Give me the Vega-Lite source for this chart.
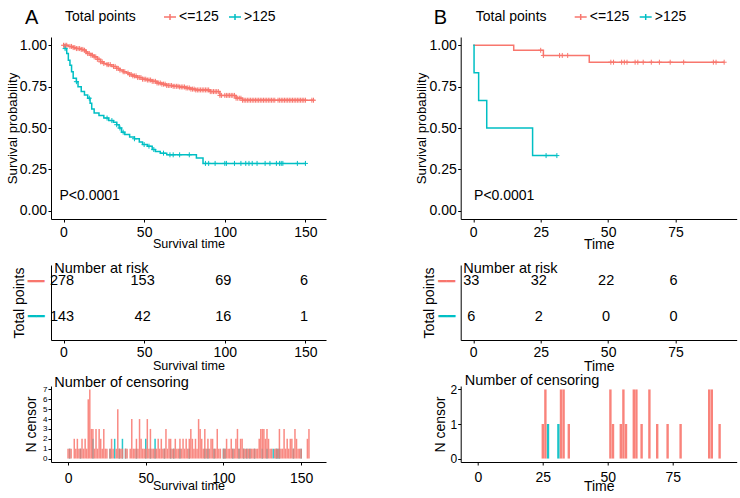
{
"$schema":"https://vega.github.io/schema/vega-lite/v6.json",
"padding":{"left":5,"top":7,"right":3,"bottom":2},
"config":{
 "font":"Liberation Sans",
 "view":{"stroke":null},
 "axis":{"grid":false,"domainColor":"#000","tickColor":"#000","labelColor":"#000","titleColor":"#000","labelFontSize":14,"titleFontSize":14,"titleFontWeight":"normal","tickSize":3,"domainWidth":1,"tickWidth":1,"labelFlush":false,"labelOverlap":false,"labelFont":"Liberation Sans","titleFont":"Liberation Sans","minExtent":0},
 "title":{"fontWeight":"normal","color":"#000","font":"Liberation Sans"},
 "legend":{"orient":"none","direction":"horizontal","titleOrient":"left","titleFontSize":14,"titleFontWeight":"normal","titleColor":"#000","labelFontSize":14,"labelColor":"#000","labelFont":"Liberation Sans","titleFont":"Liberation Sans","symbolType":"M-1,0L1,0M0,-0.5L0,0.5","symbolSize":144,"symbolStrokeWidth":1.5,"symbolFillColor":"transparent","labelOffset":2,"columnPadding":7,"titlePadding":27,"titleBaseline":"middle"}
},
"datasets":{
 "km":[
  {"p":"A","g":"<=125","t":0,"s":1},{"p":"A","g":"<=125","t":3,"s":0.993},{"p":"A","g":"<=125","t":6,"s":0.986},{"p":"A","g":"<=125","t":8,"s":0.98},{"p":"A","g":"<=125","t":11,"s":0.975},{"p":"A","g":"<=125","t":13,"s":0.97},{"p":"A","g":"<=125","t":14,"s":0.96},{"p":"A","g":"<=125","t":15,"s":0.95},{"p":"A","g":"<=125","t":17,"s":0.94},{"p":"A","g":"<=125","t":19,"s":0.93},{"p":"A","g":"<=125","t":21,"s":0.915},{"p":"A","g":"<=125","t":23,"s":0.9},{"p":"A","g":"<=125","t":25,"s":0.89},{"p":"A","g":"<=125","t":27,"s":0.883},{"p":"A","g":"<=125","t":30,"s":0.872},{"p":"A","g":"<=125","t":33,"s":0.86},{"p":"A","g":"<=125","t":35,"s":0.85},{"p":"A","g":"<=125","t":37,"s":0.84},{"p":"A","g":"<=125","t":39,"s":0.832},{"p":"A","g":"<=125","t":41,"s":0.823},{"p":"A","g":"<=125","t":43,"s":0.815},{"p":"A","g":"<=125","t":46,"s":0.805},{"p":"A","g":"<=125","t":49,"s":0.795},{"p":"A","g":"<=125","t":52,"s":0.79},{"p":"A","g":"<=125","t":55,"s":0.782},{"p":"A","g":"<=125","t":58,"s":0.772},{"p":"A","g":"<=125","t":61,"s":0.765},{"p":"A","g":"<=125","t":64,"s":0.757},{"p":"A","g":"<=125","t":68,"s":0.752},{"p":"A","g":"<=125","t":72,"s":0.748},{"p":"A","g":"<=125","t":76,"s":0.742},{"p":"A","g":"<=125","t":79,"s":0.735},{"p":"A","g":"<=125","t":82,"s":0.73},{"p":"A","g":"<=125","t":91,"s":0.72},{"p":"A","g":"<=125","t":97,"s":0.697},{"p":"A","g":"<=125","t":107,"s":0.68},{"p":"A","g":"<=125","t":111,"s":0.668},{"p":"A","g":"<=125","t":155.6,"s":0.668},
  {"p":"A","g":">125","t":0,"s":1},{"p":"A","g":">125","t":1,"s":0.98},{"p":"A","g":">125","t":2,"s":0.95},{"p":"A","g":">125","t":3,"s":0.91},{"p":"A","g":">125","t":4,"s":0.88},{"p":"A","g":">125","t":5,"s":0.84},{"p":"A","g":">125","t":6,"s":0.8},{"p":"A","g":">125","t":8,"s":0.78},{"p":"A","g":">125","t":9,"s":0.75},{"p":"A","g":">125","t":11,"s":0.72},{"p":"A","g":">125","t":13,"s":0.7},{"p":"A","g":">125","t":15,"s":0.68},{"p":"A","g":">125","t":16.5,"s":0.65},{"p":"A","g":">125","t":17.5,"s":0.615},{"p":"A","g":">125","t":19,"s":0.59},{"p":"A","g":">125","t":22,"s":0.575},{"p":"A","g":">125","t":25,"s":0.56},{"p":"A","g":">125","t":28,"s":0.545},{"p":"A","g":">125","t":31,"s":0.535},{"p":"A","g":">125","t":33,"s":0.52},{"p":"A","g":">125","t":34.5,"s":0.5},{"p":"A","g":">125","t":36,"s":0.475},{"p":"A","g":">125","t":38,"s":0.46},{"p":"A","g":">125","t":41,"s":0.445},{"p":"A","g":">125","t":44,"s":0.435},{"p":"A","g":">125","t":47,"s":0.415},{"p":"A","g":">125","t":49,"s":0.4},{"p":"A","g":">125","t":52,"s":0.39},{"p":"A","g":">125","t":55,"s":0.37},{"p":"A","g":">125","t":57,"s":0.358},{"p":"A","g":">125","t":60,"s":0.348},{"p":"A","g":">125","t":64,"s":0.338},{"p":"A","g":">125","t":82.4,"s":0.318},{"p":"A","g":">125","t":86.5,"s":0.286},{"p":"A","g":">125","t":150.4,"s":0.286},
  {"p":"B","g":"<=125","t":0,"s":1},{"p":"B","g":"<=125","t":15,"s":0.9697},{"p":"B","g":"<=125","t":26,"s":0.9384},{"p":"B","g":"<=125","t":43,"s":0.8976},{"p":"B","g":"<=125","t":93,"s":0.8976},
  {"p":"B","g":">125","t":0,"s":1},{"p":"B","g":">125","t":0.3,"s":0.8333},{"p":"B","g":">125","t":2,"s":0.6667},{"p":"B","g":">125","t":5,"s":0.5},{"p":"B","g":">125","t":22,"s":0.3333},{"p":"B","g":">125","t":31,"s":0.3333}
 ],
 "cens":[
  {"p":"A","g":">125","t":1,"n":1,"s":0.98},{"p":"A","g":">125","t":8,"n":1,"s":0.78},{"p":"A","g":">125","t":16,"n":2,"s":0.68},{"p":"A","g":">125","t":27,"n":1,"s":0.56},{"p":"A","g":">125","t":30,"n":2,"s":0.545},{"p":"A","g":">125","t":33,"n":1,"s":0.52},{"p":"A","g":">125","t":35,"n":2,"s":0.5},{"p":"A","g":">125","t":37,"n":1,"s":0.475},{"p":"A","g":">125","t":44,"n":1,"s":0.435},{"p":"A","g":">125","t":50,"n":2,"s":0.4},{"p":"A","g":">125","t":53,"n":1,"s":0.39},{"p":"A","g":">125","t":56,"n":2,"s":0.37},{"p":"A","g":">125","t":62,"n":1,"s":0.348},{"p":"A","g":">125","t":66,"n":1,"s":0.338},{"p":"A","g":">125","t":68,"n":1,"s":0.338},{"p":"A","g":">125","t":72,"n":1,"s":0.338},{"p":"A","g":">125","t":78,"n":1,"s":0.338},{"p":"A","g":">125","t":88,"n":1,"s":0.286},{"p":"A","g":">125","t":90,"n":1,"s":0.286},{"p":"A","g":">125","t":94,"n":1,"s":0.286},{"p":"A","g":">125","t":100,"n":1,"s":0.286},{"p":"A","g":">125","t":101,"n":1,"s":0.286},{"p":"A","g":">125","t":106,"n":1,"s":0.286},{"p":"A","g":">125","t":110,"n":1,"s":0.286},{"p":"A","g":">125","t":113,"n":1,"s":0.286},{"p":"A","g":">125","t":115,"n":1,"s":0.286},{"p":"A","g":">125","t":117,"n":1,"s":0.286},{"p":"A","g":">125","t":120,"n":1,"s":0.286},{"p":"A","g":">125","t":125,"n":1,"s":0.286},{"p":"A","g":">125","t":128,"n":1,"s":0.286},{"p":"A","g":">125","t":132,"n":1,"s":0.286},{"p":"A","g":">125","t":134,"n":1,"s":0.286},{"p":"A","g":">125","t":135,"n":1,"s":0.286},{"p":"A","g":">125","t":136,"n":1,"s":0.286},{"p":"A","g":">125","t":145,"n":1,"s":0.286},{"p":"A","g":">125","t":150,"n":1,"s":0.286},
  {"p":"A","g":"<=125","t":0,"n":1,"s":1},{"p":"A","g":"<=125","t":1,"n":1,"s":1},{"p":"A","g":"<=125","t":2,"n":1,"s":1},{"p":"A","g":"<=125","t":4,"n":2,"s":0.993},{"p":"A","g":"<=125","t":5,"n":1,"s":0.993},{"p":"A","g":"<=125","t":6,"n":2,"s":0.986},{"p":"A","g":"<=125","t":7,"n":1,"s":0.986},{"p":"A","g":"<=125","t":8,"n":1,"s":0.98},{"p":"A","g":"<=125","t":9,"n":2,"s":0.98},{"p":"A","g":"<=125","t":10,"n":1,"s":0.98},{"p":"A","g":"<=125","t":11,"n":2,"s":0.975},{"p":"A","g":"<=125","t":12,"n":1,"s":0.975},{"p":"A","g":"<=125","t":13,"n":6,"s":0.97},{"p":"A","g":"<=125","t":14,"n":7,"s":0.96},{"p":"A","g":"<=125","t":15,"n":3,"s":0.95},{"p":"A","g":"<=125","t":16,"n":3,"s":0.95},{"p":"A","g":"<=125","t":17,"n":1,"s":0.94},{"p":"A","g":"<=125","t":18,"n":3,"s":0.94},{"p":"A","g":"<=125","t":19,"n":1,"s":0.93},{"p":"A","g":"<=125","t":20,"n":3,"s":0.93},{"p":"A","g":"<=125","t":21,"n":2,"s":0.915},{"p":"A","g":"<=125","t":22,"n":1,"s":0.915},{"p":"A","g":"<=125","t":23,"n":3,"s":0.9},{"p":"A","g":"<=125","t":24,"n":1,"s":0.9},{"p":"A","g":"<=125","t":25,"n":1,"s":0.89},{"p":"A","g":"<=125","t":27,"n":1,"s":0.883},{"p":"A","g":"<=125","t":28,"n":2,"s":0.883},{"p":"A","g":"<=125","t":29,"n":1,"s":0.883},{"p":"A","g":"<=125","t":31,"n":1,"s":0.872},{"p":"A","g":"<=125","t":32,"n":5,"s":0.872},{"p":"A","g":"<=125","t":33,"n":1,"s":0.86},{"p":"A","g":"<=125","t":34,"n":1,"s":0.86},{"p":"A","g":"<=125","t":35,"n":1,"s":0.85},{"p":"A","g":"<=125","t":37,"n":1,"s":0.84},{"p":"A","g":"<=125","t":38,"n":1,"s":0.84},{"p":"A","g":"<=125","t":40,"n":1,"s":0.832},{"p":"A","g":"<=125","t":41,"n":4,"s":0.823},{"p":"A","g":"<=125","t":42,"n":1,"s":0.823},{"p":"A","g":"<=125","t":43,"n":1,"s":0.815},{"p":"A","g":"<=125","t":44,"n":2,"s":0.815},{"p":"A","g":"<=125","t":45,"n":1,"s":0.815},{"p":"A","g":"<=125","t":46,"n":4,"s":0.805},{"p":"A","g":"<=125","t":47,"n":2,"s":0.805},{"p":"A","g":"<=125","t":48,"n":1,"s":0.805},{"p":"A","g":"<=125","t":49,"n":1,"s":0.795},{"p":"A","g":"<=125","t":50,"n":1,"s":0.795},{"p":"A","g":"<=125","t":51,"n":4,"s":0.795},{"p":"A","g":"<=125","t":52,"n":1,"s":0.79},{"p":"A","g":"<=125","t":53,"n":3,"s":0.79},{"p":"A","g":"<=125","t":54,"n":1,"s":0.79},{"p":"A","g":"<=125","t":55,"n":1,"s":0.782},{"p":"A","g":"<=125","t":56,"n":1,"s":0.782},{"p":"A","g":"<=125","t":57,"n":1,"s":0.782},{"p":"A","g":"<=125","t":58,"n":2,"s":0.772},{"p":"A","g":"<=125","t":59,"n":1,"s":0.772},{"p":"A","g":"<=125","t":60,"n":2,"s":0.772},{"p":"A","g":"<=125","t":61,"n":1,"s":0.765},{"p":"A","g":"<=125","t":62,"n":1,"s":0.765},{"p":"A","g":"<=125","t":63,"n":3,"s":0.765},{"p":"A","g":"<=125","t":64,"n":1,"s":0.757},{"p":"A","g":"<=125","t":65,"n":2,"s":0.757},{"p":"A","g":"<=125","t":66,"n":2,"s":0.757},{"p":"A","g":"<=125","t":67,"n":1,"s":0.757},{"p":"A","g":"<=125","t":68,"n":1,"s":0.752},{"p":"A","g":"<=125","t":69,"n":2,"s":0.752},{"p":"A","g":"<=125","t":70,"n":1,"s":0.752},{"p":"A","g":"<=125","t":71,"n":1,"s":0.752},{"p":"A","g":"<=125","t":72,"n":2,"s":0.748},{"p":"A","g":"<=125","t":73,"n":1,"s":0.748},{"p":"A","g":"<=125","t":74,"n":2,"s":0.748},{"p":"A","g":"<=125","t":75,"n":1,"s":0.748},{"p":"A","g":"<=125","t":76,"n":2,"s":0.742},{"p":"A","g":"<=125","t":77,"n":1,"s":0.742},{"p":"A","g":"<=125","t":78,"n":2,"s":0.742},{"p":"A","g":"<=125","t":79,"n":3,"s":0.735},{"p":"A","g":"<=125","t":80,"n":2,"s":0.735},{"p":"A","g":"<=125","t":81,"n":1,"s":0.735},{"p":"A","g":"<=125","t":82,"n":2,"s":0.73},{"p":"A","g":"<=125","t":83,"n":1,"s":0.73},{"p":"A","g":"<=125","t":84,"n":4,"s":0.73},{"p":"A","g":"<=125","t":85,"n":3,"s":0.73},{"p":"A","g":"<=125","t":86,"n":2,"s":0.73},{"p":"A","g":"<=125","t":87,"n":1,"s":0.73},{"p":"A","g":"<=125","t":88,"n":3,"s":0.73},{"p":"A","g":"<=125","t":89,"n":1,"s":0.73},{"p":"A","g":"<=125","t":90,"n":2,"s":0.73},{"p":"A","g":"<=125","t":91,"n":1,"s":0.72},{"p":"A","g":"<=125","t":92,"n":2,"s":0.72},{"p":"A","g":"<=125","t":93,"n":2,"s":0.72},{"p":"A","g":"<=125","t":94,"n":1,"s":0.72},{"p":"A","g":"<=125","t":95,"n":1,"s":0.72},{"p":"A","g":"<=125","t":96,"n":3,"s":0.72},{"p":"A","g":"<=125","t":97,"n":1,"s":0.697},{"p":"A","g":"<=125","t":98,"n":1,"s":0.697},{"p":"A","g":"<=125","t":100,"n":1,"s":0.697},{"p":"A","g":"<=125","t":101,"n":1,"s":0.697},{"p":"A","g":"<=125","t":102,"n":2,"s":0.697},{"p":"A","g":"<=125","t":103,"n":1,"s":0.697},{"p":"A","g":"<=125","t":104,"n":1,"s":0.697},{"p":"A","g":"<=125","t":105,"n":2,"s":0.697},{"p":"A","g":"<=125","t":106,"n":1,"s":0.697},{"p":"A","g":"<=125","t":107,"n":1,"s":0.68},{"p":"A","g":"<=125","t":108,"n":2,"s":0.68},{"p":"A","g":"<=125","t":109,"n":3,"s":0.68},{"p":"A","g":"<=125","t":110,"n":1,"s":0.68},{"p":"A","g":"<=125","t":111,"n":2,"s":0.668},{"p":"A","g":"<=125","t":112,"n":2,"s":0.668},{"p":"A","g":"<=125","t":113,"n":1,"s":0.668},{"p":"A","g":"<=125","t":114,"n":1,"s":0.668},{"p":"A","g":"<=125","t":115,"n":1,"s":0.668},{"p":"A","g":"<=125","t":116,"n":1,"s":0.668},{"p":"A","g":"<=125","t":117,"n":1,"s":0.668},{"p":"A","g":"<=125","t":118,"n":1,"s":0.668},{"p":"A","g":"<=125","t":119,"n":1,"s":0.668},{"p":"A","g":"<=125","t":120,"n":1,"s":0.668},{"p":"A","g":"<=125","t":121,"n":1,"s":0.668},{"p":"A","g":"<=125","t":122,"n":1,"s":0.668},{"p":"A","g":"<=125","t":123,"n":2,"s":0.668},{"p":"A","g":"<=125","t":124,"n":3,"s":0.668},{"p":"A","g":"<=125","t":125,"n":3,"s":0.668},{"p":"A","g":"<=125","t":126,"n":3,"s":0.668},{"p":"A","g":"<=125","t":127,"n":2,"s":0.668},{"p":"A","g":"<=125","t":128,"n":3,"s":0.668},{"p":"A","g":"<=125","t":129,"n":2,"s":0.668},{"p":"A","g":"<=125","t":130,"n":1,"s":0.668},{"p":"A","g":"<=125","t":131,"n":1,"s":0.668},{"p":"A","g":"<=125","t":133,"n":1,"s":0.668},{"p":"A","g":"<=125","t":134,"n":1,"s":0.668},{"p":"A","g":"<=125","t":135,"n":1,"s":0.668},{"p":"A","g":"<=125","t":136,"n":3,"s":0.668},{"p":"A","g":"<=125","t":137,"n":1,"s":0.668},{"p":"A","g":"<=125","t":138,"n":1,"s":0.668},{"p":"A","g":"<=125","t":139,"n":3,"s":0.668},{"p":"A","g":"<=125","t":140,"n":1,"s":0.668},{"p":"A","g":"<=125","t":141,"n":2,"s":0.668},{"p":"A","g":"<=125","t":142,"n":1,"s":0.668},{"p":"A","g":"<=125","t":143,"n":2,"s":0.668},{"p":"A","g":"<=125","t":144,"n":2,"s":0.668},{"p":"A","g":"<=125","t":145,"n":1,"s":0.668},{"p":"A","g":"<=125","t":146,"n":3,"s":0.668},{"p":"A","g":"<=125","t":147,"n":2,"s":0.668},{"p":"A","g":"<=125","t":148,"n":1,"s":0.668},{"p":"A","g":"<=125","t":149,"n":1,"s":0.668},{"p":"A","g":"<=125","t":150,"n":1,"s":0.668},{"p":"A","g":"<=125","t":154,"n":2,"s":0.668},{"p":"A","g":"<=125","t":155,"n":3,"s":0.668},
  {"p":"B","g":">125","t":27,"n":1,"s":0.3333},{"p":"B","g":">125","t":31,"n":1,"s":0.3333},
  {"p":"B","g":"<=125","t":25,"n":1,"s":0.9697},{"p":"B","g":"<=125","t":26,"n":2,"s":0.9384},{"p":"B","g":"<=125","t":32,"n":2,"s":0.9384},{"p":"B","g":"<=125","t":33,"n":2,"s":0.9384},{"p":"B","g":"<=125","t":35,"n":1,"s":0.9384},{"p":"B","g":"<=125","t":51,"n":2,"s":0.8976},{"p":"B","g":"<=125","t":52,"n":1,"s":0.8976},{"p":"B","g":"<=125","t":55,"n":1,"s":0.8976},{"p":"B","g":"<=125","t":56,"n":2,"s":0.8976},{"p":"B","g":"<=125","t":57,"n":1,"s":0.8976},{"p":"B","g":"<=125","t":60,"n":2,"s":0.8976},{"p":"B","g":"<=125","t":61,"n":2,"s":0.8976},{"p":"B","g":"<=125","t":63,"n":1,"s":0.8976},{"p":"B","g":"<=125","t":66,"n":2,"s":0.8976},{"p":"B","g":"<=125","t":69,"n":1,"s":0.8976},{"p":"B","g":"<=125","t":73,"n":1,"s":0.8976},{"p":"B","g":"<=125","t":78,"n":1,"s":0.8976},{"p":"B","g":"<=125","t":89,"n":2,"s":0.8976},{"p":"B","g":"<=125","t":90,"n":2,"s":0.8976},{"p":"B","g":"<=125","t":93,"n":1,"s":0.8976}
 ],
 "risk":[
  {"p":"A","g":"<=125","t":0,"n":278},{"p":"A","g":"<=125","t":50,"n":153},{"p":"A","g":"<=125","t":100,"n":69},{"p":"A","g":"<=125","t":150,"n":6},
  {"p":"A","g":">125","t":0,"n":143},{"p":"A","g":">125","t":50,"n":42},{"p":"A","g":">125","t":100,"n":16},{"p":"A","g":">125","t":150,"n":1},
  {"p":"B","g":"<=125","t":0,"n":33},{"p":"B","g":"<=125","t":25,"n":32},{"p":"B","g":"<=125","t":50,"n":22},{"p":"B","g":"<=125","t":75,"n":6},
  {"p":"B","g":">125","t":0,"n":6},{"p":"B","g":">125","t":25,"n":2},{"p":"B","g":">125","t":50,"n":0},{"p":"B","g":">125","t":75,"n":0}
 ]
},
"bounds":"flush",
"align":"each",
"columns":2,
"spacing":{"row":46,"column":134.7},
"resolve":{"scale":{"color":"independent"},"legend":{"color":"independent"}},
"concat":[
   {"width":275,"height":182,
    "title":{"text":"A","anchor":"start","frame":"group","fontSize":20,"baseline":"alphabetic","offset":0,"dy":33.7,"dx":-26},
    "layer":[
     {"data":{"name":"km"},"transform":[{"filter":"datum.p==='A'"}],
      "mark":{"type":"line","interpolate":"step-after","strokeWidth":1.5},
      "encoding":{
       "x":{"field":"t","type":"quantitative","scale":{"domain":[-7.75,162.75],"nice":false,"zero":false},"axis":{"values":[0,50,100,150],"title":"Survival time","titleFontSize":12.6,"labelPadding":3.5,"titlePadding":-2.5}},
       "y":{"field":"s","type":"quantitative","scale":{"domain":[-0.05,1.05],"nice":false,"zero":false},"axis":{"values":[0,0.25,0.5,0.75,1],"format":".2f","title":"Survival probability","titleFontSize":13.3,"labelPadding":1.5,"titlePadding":0}},
       "color":{"field":"g","type":"nominal","scale":{"domain":["<=125",">125"],"range":["#F8766D","#00BFC4"]},"legend":{"title":"Total points","legendX":14,"legendY":-27}}
      }},
     {"data":{"name":"cens"},"transform":[{"filter":"datum.p==='A'"}],
      "mark":{"type":"point","shape":"M-1,0L1,0M0,-1L0,1","filled":false,"size":25,"strokeWidth":1,"opacity":1},
      "encoding":{"x":{"field":"t","type":"quantitative"},"y":{"field":"s","type":"quantitative"},"color":{"field":"g","type":"nominal"}}},
     {"data":{"values":[{"label":"P<0.0001"}]},
      "mark":{"type":"text","align":"left","baseline":"middle","fontSize":14,"color":"#000"},
      "encoding":{"x":{"datum":-2.5},"y":{"datum":0.09},"text":{"field":"label"}}}
    ]},
   {"width":276,"height":182,
    "title":{"text":"B","anchor":"start","frame":"group","fontSize":20,"baseline":"alphabetic","offset":0,"dy":33.7,"dx":-27},
    "layer":[
     {"data":{"name":"km"},"transform":[{"filter":"datum.p==='B'"}],
      "mark":{"type":"line","interpolate":"step-after","strokeWidth":1.5},
      "encoding":{
       "x":{"field":"t","type":"quantitative","scale":{"domain":[-4.65,97.65],"nice":false,"zero":false},"axis":{"values":[0,25,50,75],"title":"Time","titleFontSize":14,"labelPadding":3.5,"titlePadding":-2}},
       "y":{"field":"s","type":"quantitative","scale":{"domain":[-0.05,1.05],"nice":false,"zero":false},"axis":{"values":[0,0.25,0.5,0.75,1],"format":".2f","title":"Survival probability","titleFontSize":13.3,"labelPadding":1.5,"titlePadding":0}},
       "color":{"field":"g","type":"nominal","scale":{"domain":["<=125",">125"],"range":["#F8766D","#00BFC4"]},"legend":{"title":"Total points","legendX":15,"legendY":-27}}
      }},
     {"data":{"name":"cens"},"transform":[{"filter":"datum.p==='B'"}],
      "mark":{"type":"point","shape":"M-1,0L1,0M0,-1L0,1","filled":false,"size":25,"strokeWidth":1,"opacity":1},
      "encoding":{"x":{"field":"t","type":"quantitative"},"y":{"field":"s","type":"quantitative"},"color":{"field":"g","type":"nominal"}}},
     {"data":{"values":[{"label":"P<0.0001"}]},
      "mark":{"type":"text","align":"left","baseline":"middle","fontSize":14,"color":"#000"},
      "encoding":{"x":{"datum":0.3},"y":{"datum":0.09},"text":{"field":"label"}}}
    ]},
   {"width":275,"height":75,
    "title":{"text":"Number at risk","anchor":"start","frame":"group","fontSize":14.5,"baseline":"alphabetic","offset":0,"dx":3.3,"dy":22.5},
    "data":{"name":"risk"},"transform":[{"filter":"datum.p==='A'"}],
    "mark":{"type":"text","fontSize":14.5,"dx":-1.5,"color":"#000"},
    "encoding":{
     "x":{"field":"t","type":"quantitative","scale":{"domain":[-7.75,162.75],"nice":false,"zero":false},"axis":{"values":[0,50,100,150],"title":"Survival time","titleFontSize":12.6,"labelPadding":2.5,"titlePadding":-0.5}},
     "y":{"field":"g","type":"ordinal","scale":{"domain":["<=125",">125"],"padding":0.5714,"align":0.4125},"axis":{"title":"Total points","ticks":false,"tickSize":0,"labelExpr":"'━━'","labelFont":"DejaVu Sans","labelFontSize":14,"labelPadding":7,"titlePadding":1,"labelColor":{"condition":{"test":"datum.value === '<=125'","value":"#F8766D"},"value":"#00BFC4"}}},
     "text":{"field":"n","type":"quantitative"}
    }},
   {"width":276,"height":75,
    "title":{"text":"Number at risk","anchor":"start","frame":"group","fontSize":14.5,"baseline":"alphabetic","offset":0,"dx":2.6,"dy":22.5},
    "data":{"name":"risk"},"transform":[{"filter":"datum.p==='B'"}],
    "mark":{"type":"text","fontSize":14.5,"dx":-2,"color":"#000"},
    "encoding":{
     "x":{"field":"t","type":"quantitative","scale":{"domain":[-4.65,97.65],"nice":false,"zero":false},"axis":{"values":[0,25,50,75],"title":"Time","titleFontSize":14,"labelPadding":2.5,"titlePadding":0}},
     "y":{"field":"g","type":"ordinal","scale":{"domain":["<=125",">125"],"padding":0.5714,"align":0.4125},"axis":{"title":"Total points","ticks":false,"tickSize":0,"labelExpr":"'━━'","labelFont":"DejaVu Sans","labelFontSize":14,"labelPadding":6,"titlePadding":1,"labelColor":{"condition":{"test":"datum.value === '<=125'","value":"#F8766D"},"value":"#00BFC4"}}},
     "text":{"field":"n","type":"quantitative"}
    }},
   {"width":275,"height":76,
    "title":{"text":"Number of censoring","anchor":"start","frame":"group","fontSize":14.5,"baseline":"alphabetic","offset":0,"dx":3.3,"dy":16},
    "data":{"name":"cens"},"transform":[{"filter":"datum.p==='A'"}],
    "mark":{"type":"bar","size":1.5,"opacity":0.85},
    "encoding":{
     "x":{"field":"t","type":"quantitative","scale":{"domain":[-7.75,162.75],"nice":false,"zero":false},"axis":{"values":[0,50,100,150],"title":"Survival time","titleFontSize":12.6,"labelPadding":6,"titlePadding":-6}},
     "y":{"field":"n","type":"quantitative","stack":null,"scale":{"domain":[-0.35,7.35],"nice":false,"zero":false},"axis":{"values":[0,1,2,3,4,5,6,7],"title":"N censor","labelFontSize":8,"labelPadding":1,"titlePadding":4.5}},
     "y2":{"datum":0},
     "color":{"field":"g","type":"nominal","scale":{"domain":["<=125",">125"],"range":["#F8766D","#00BFC4"]},"legend":null},
     "order":{"field":"g","sort":"descending"}
    }},
   {"width":276,"height":76,
    "title":{"text":"Number of censoring","anchor":"start","frame":"group","fontSize":14.5,"baseline":"alphabetic","offset":0,"dx":4,"dy":16},
    "data":{"name":"cens"},"transform":[{"filter":"datum.p==='B'"}],
    "mark":{"type":"bar","size":2.4,"opacity":0.9},
    "encoding":{
     "x":{"field":"t","type":"quantitative","scale":{"domain":[-4.65,97.65],"nice":false,"zero":false},"axis":{"values":[0,25,50,75],"title":"Time","titleFontSize":14,"labelPadding":5,"titlePadding":-4.5}},
     "y":{"field":"n","type":"quantitative","stack":null,"scale":{"domain":[-0.1,2.1],"nice":false,"zero":false},"axis":{"values":[0,1,2],"title":"N censor","labelFontSize":12,"labelPadding":1,"titlePadding":2.5}},
     "y2":{"datum":0},
     "color":{"field":"g","type":"nominal","scale":{"domain":["<=125",">125"],"range":["#F8766D","#00BFC4"]},"legend":null},
     "order":{"field":"g","sort":"descending"}
    }}
]
}
